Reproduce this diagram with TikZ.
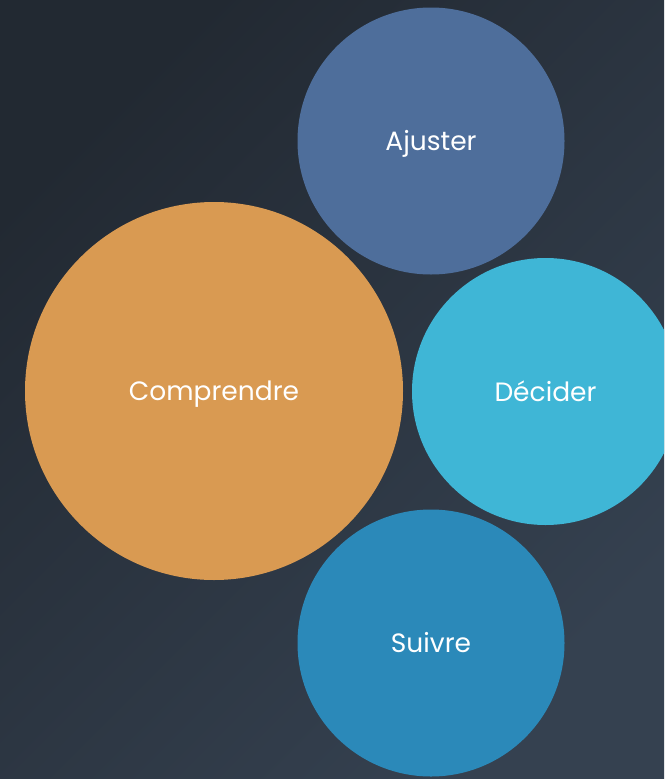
\documentclass[tikz,border=0pt]{standalone}
\usepackage{fontspec}
\setmainfont{Poppins}
\usetikzlibrary{shadings}
\definecolor{bgA}{HTML}{222932}
\definecolor{bgB}{HTML}{2B3440}
\definecolor{bgC}{HTML}{354150}
\definecolor{cAjuster}{HTML}{4E6E9B}
\definecolor{cComprendre}{HTML}{D99A52}
\definecolor{cDecider}{HTML}{3FB6D6}
\definecolor{cSuivre}{HTML}{2B89B9}
\newcommand{\bubbletext}[1]{\smash{\raisebox{-9.5pt}{#1}}}
\tikzset{
  bubble/.style={circle, inner sep=0pt, outer sep=0pt, text=white,
    font=\fontsize{26.5}{30}\selectfont},
}
\begin{document}
\begin{tikzpicture}[x=1pt,y=-1pt]
\useasboundingbox (0,0) rectangle (664,779);
\clip (0,0) rectangle (664,779);
\shade[left color=bgA, right color=bgC, shading angle=45] (0,0) rectangle (664,779);
\node[bubble, fill=cAjuster, minimum size=267pt] (aj) at (431,141) {\bubbletext{Ajuster}};
\node[bubble, fill=cComprendre, minimum size=378pt] (co) at (214,391) {\bubbletext{Comprendre}};
\node[bubble, fill=cDecider, minimum size=267pt] (de) at (545.5,391.5) {\bubbletext{Décider}};
\node[bubble, fill=cSuivre, minimum size=267pt] (su) at (431,643) {\bubbletext{Suivre}};
\end{tikzpicture}
\end{document}
